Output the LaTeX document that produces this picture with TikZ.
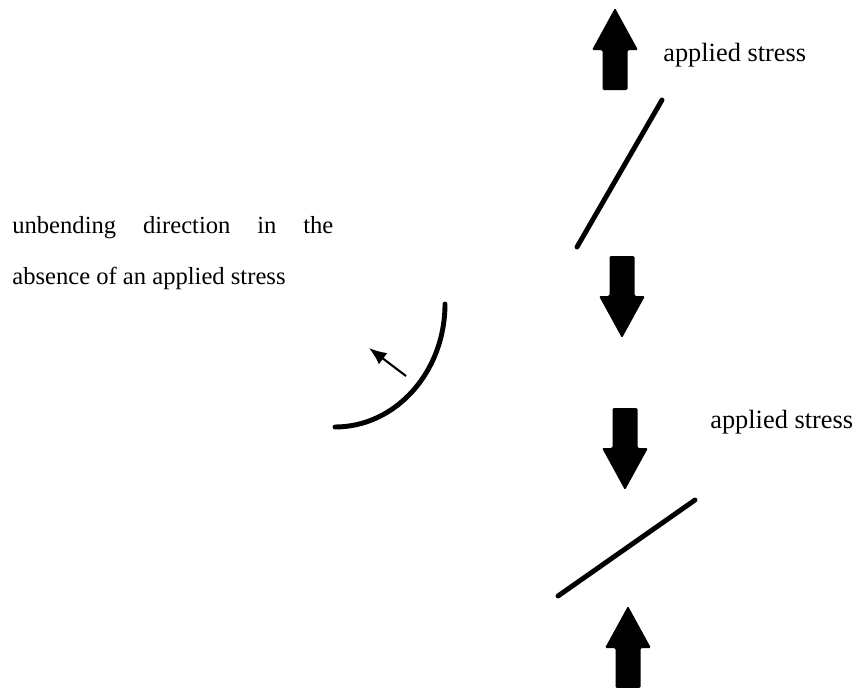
\documentclass[tikz,border=0pt]{standalone}
\usepackage{fontspec}
\setmainfont{Liberation Serif}
\usepackage{tikz}
\usetikzlibrary{arrows.meta}

\begin{document}
\begin{tikzpicture}[x=0.02cm, y=-0.02cm, fibre/.style={line width=2.8pt, line cap=round},
  lbl/.style={inner sep=0pt, anchor=west, font=\fontsize{15}{18}\selectfont}]
\useasboundingbox (0,0) rectangle (856,687);
% block arrows for the load, tip at (\x,\y)
\foreach \x/\y/\r in {615/8/0, 622/338/180, 625/490/180, 628/606/0} {
\begin{scope}[shift={(\x,\y)}, rotate=\r]
\fill[rounded corners=0.8pt] (0,0) -- (23,42) -- (12.5,42) -- (12.5,82) -- (-12.5,82) -- (-12.5,42) -- (-23,42) -- cycle;
\end{scope}
}
\node[lbl] (tens) at (663,55) {applied stress};
\node[lbl] (comp) at (710,422) {applied stress};
% fibres under tension and compression
\coordinate (t1) at (577,247); \coordinate (t2) at (662,100);
\coordinate (c1) at (558,596); \coordinate (c2) at (695,500);
\draw[fibre] (t1) -- (t2);
\draw[fibre] (c1) -- (c2);
% free bent fibre
\draw[fibre] (445,304) arc[start angle=0, end angle=90, x radius=110, y radius=123];
\coordinate (u1) at (406,376); \coordinate (u2) at (369,348);
\draw[line width=1.2pt, -{Latex[length=10pt, width=8pt]}] (u1) -- (u2);
\node[lbl, font=\fontsize{14}{17}\selectfont] (free1) at (12,228) {\makebox[6.42cm][s]{unbending direction in the}};
\node[lbl, font=\fontsize{14}{17}\selectfont] (free2) at (12,278) {absence of an applied stress};
\end{tikzpicture}
\end{document}
